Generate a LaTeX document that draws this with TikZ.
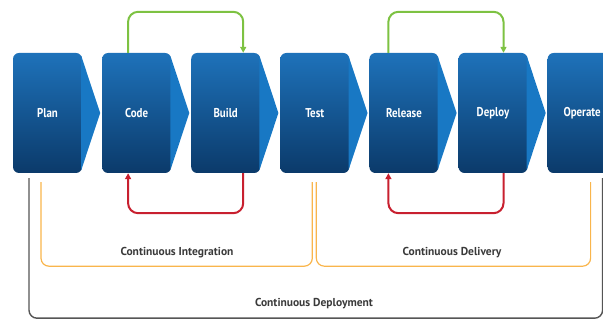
\documentclass[tikz,border=0pt]{standalone}
\usepackage{fontspec}
\setmainfont{PT Sans}
\newfontfamily\stagefont[FakeStretch = 0.85]{PT Sans}
\usetikzlibrary{positioning,arrows.meta}

\definecolor{StageTop}{HTML}{1E72BA}
\definecolor{StageBottom}{HTML}{0B3A6A}
\definecolor{StageTip}{HTML}{1878C4}
\definecolor{PassGreen}{HTML}{7DC242}
\definecolor{FailRed}{HTML}{C8202F}
\definecolor{PhaseOrange}{HTML}{F9B54C}
\definecolor{PhaseGray}{HTML}{555555}
\definecolor{PhaseText}{HTML}{3A3A3A}

\tikzset{%
        every node/.style = {font = \bfseries},
        stage/.style = {rectangle, rounded corners = 6pt, minimum width = 69pt, minimum height = 120pt, inner sep = 0pt, top color = StageTop, bottom color = StageBottom, text = white, font = \stagefont\bfseries\fontsize{12.8}{14}\selectfont},
        stagetip/.style = {fill = StageTip},
        pass/.style = {-{Triangle[length = 6pt, width = 6pt]}, line width = 2pt, draw = PassGreen, rounded corners = 10pt},
        fail/.style = {-{Triangle[length = 6pt, width = 6pt]}, line width = 2pt, draw = FailRed, rounded corners = 10pt},
        inner/.style = {line width = 1.2pt, draw = PhaseOrange, rounded corners = 8pt},
        outer/.style = {line width = 1.4pt, draw = PhaseGray, rounded corners = 8pt},
        phase/.style = {text = PhaseText, font = \bfseries\fontsize{11.5}{13}\selectfont}
    }

\begin{document}
\begin{tikzpicture}[x = 1pt, y = -1pt]
				\useasboundingbox (0,0) rectangle (603,320);
				\clip (0,0) rectangle (603,320);

				% pipeline stages
				\node[stage]							(plan)		at (47.5,113)		{Plan};
				\node[stage, right = 19.7pt of plan]	(code)							{Code};
				\node[stage, right = 19.7pt of code]	(build)						{Build};
				\node[stage, right = 19.7pt of build]	(test)							{Test};
				\node[stage, right = 19.7pt of test]	(release)						{Release};
				\node[stage, right = 19.7pt of release]	(deploy)						{Deploy};
				\node[stage, right = 19.7pt of deploy]	(operate)						{Operate};

				\foreach \s in {plan, code, build, test, release, deploy, operate}
					\fill[stagetip] ([xshift = -1pt, yshift = -3pt]\s.north east) -- ([xshift = 18pt]\s.east) -- ([xshift = -1pt, yshift = 3pt]\s.south east) -- cycle;

				% feedback loops
				\draw[pass] ([xshift = -8.5pt]code.north) -- ++(0,-41) -| ([xshift = 17.5pt]build.north);
				\draw[fail] ([xshift = 17.5pt]build.south) -- ++(0,40) -| ([xshift = -8.5pt]code.south);
				\draw[pass] ([xshift = -15.5pt]release.north) -- ++(0,-41) -| ([xshift = 10.5pt]deploy.north);
				\draw[fail] ([xshift = 10.5pt]deploy.south) -- ++(0,40) -| ([xshift = -15.5pt]release.south);

				% phases
				\draw[inner] ([xshift = -6.5pt, yshift = -9pt]plan.south) -- ++(0,84) -| ([xshift = -2.5pt, yshift = -9pt]test.south);
				\draw[inner] ([xshift = 1.5pt, yshift = -9pt]test.south) -- ++(0,84) -| ([xshift = 8.5pt, yshift = -9pt]operate.south);
				\draw[outer] ([xshift = -18.5pt, yshift = -5pt]plan.south) -- ++(0,140) -| ([xshift = 20.5pt, yshift = -5pt]operate.south);

				\node[phase]	(ci)		at (177,253)		{Continuous Integration};
				\node[phase]	(cdel)	at (452,253)		{Continuous Delivery};
				\node[phase]	(cdep)	at (314,304)		{Continuous Deployment};
\end{tikzpicture}
\end{document}
